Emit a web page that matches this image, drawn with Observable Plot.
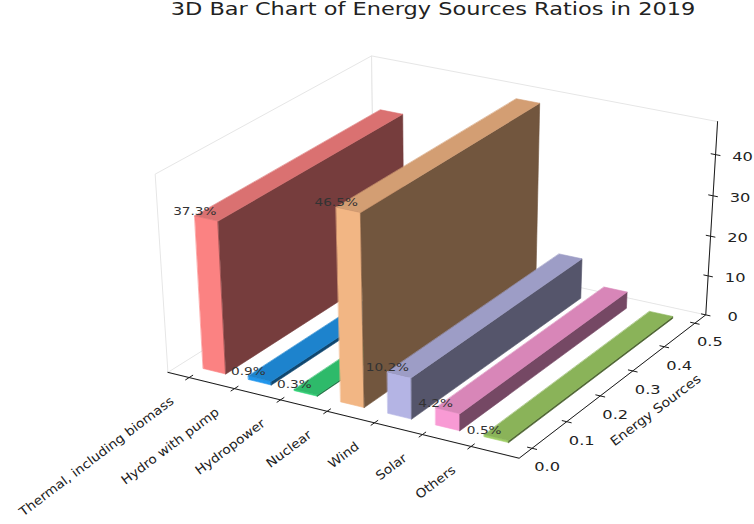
<!DOCTYPE html>
<html>
<head>
<meta charset="utf-8">
<script src="https://cdn.jsdelivr.net/npm/d3@7"></script>
<script src="https://cdn.jsdelivr.net/npm/@observablehq/plot@0.6"></script>
<style>
  body { margin: 0; background: #fff; font-family: "DejaVu Sans", sans-serif; }
  #title { position: relative; width: 754px; height: 30px; }
  #title span { position: absolute; left: 433px; top: -1px; white-space: nowrap; font-size: 17px; color: #222;
    transform: translateX(-50%) scaleX(1.32); transform-origin: center; }
</style>
</head>
<body>
<div id="title"><span></span></div>
<div id="chart"></div>
<script>
// ---------------- data ----------------
const chartTitle = "3D Bar Chart of Energy Sources Ratios in 2019";
const categories = ["Thermal, including biomass", "Hydro with pump", "Hydropower", "Nuclear", "Wind", "Solar", "Others"];
const values = [37.3, 0.9, 0.3, 46.5, 10.2, 4.2, 0.5];
const barColors = ["#fb8282", "#2196ec", "#35d67a", "#f2b684", "#b4b4e4", "#f89ad4", "#9fce66"];
const yTicks = [0, 0.1, 0.2, 0.3, 0.4, 0.5];
const zTicks = [0, 10, 20, 30, 40];
const yAxisLabel = "Energy Sources";
const barDx = 0.5, barDy = 0.5, barY = 0;

document.querySelector("#title span").textContent = chartTitle;

// ---------------- 3D camera (matplotlib-like: elev 30, azim -60, perspective) ----------------
const toRad = Math.PI / 180;
const elev = 30 * toRad, azim = -60 * toRad, camDist = 10;
function padLimits(lo, hi) { const m = (hi - lo) * 0.05; const a = lo - m, b = hi + m; const p = (b - a) / 48; return [a - p, b + p]; }
const xLim = padLimits(0, categories.length - 1 + barDx);
const yLim = padLimits(barY, barY + barDy);
const zLim = [0, d3.max(values) * 1.03];

const dot = (a, b) => a[0] * b[0] + a[1] * b[1] + a[2] * b[2];
const cross = (a, b) => [a[1] * b[2] - a[2] * b[1], a[2] * b[0] - a[0] * b[2], a[0] * b[1] - a[1] * b[0]];
const unit = a => { const l = Math.hypot(...a); return a.map(d => d / l); };
const wv = [Math.cos(elev) * Math.cos(azim), Math.cos(elev) * Math.sin(azim), Math.sin(elev)];
const uv = unit(cross([0, 0, 1], wv));
const vv = cross(wv, uv);
const kBox = 1.8294640721620434 * 25 / 24 / Math.hypot(4, 4, 3);
const box = [4 * kBox, 4 * kBox, 3 * kBox];
function project(x, y, z) {
  const q = [
    (x - xLim[0]) / (xLim[1] - xLim[0]) * box[0] - box[0] / 2,
    (y - yLim[0]) / (yLim[1] - yLim[0]) * box[1] - box[1] / 2,
    (z - zLim[0]) / (zLim[1] - zLim[0]) * box[2] - box[2] / 2
  ];
  const d = camDist - dot(wv, q);
  return { px: dot(uv, q) / d, py: dot(vv, q) / d };
}
const P = p => project(p[0], p[1], p[2]);

// screen mapping of projected coordinates (layout)
const W = 754, H = 494;
const X0 = 441.3, SX = 3380, Y0 = 216.9, SY = 2530;

// ---------------- geometry built from data ----------------
const [xa, xb] = xLim, [ya, yb] = yLim, [za, zb] = zLim;
const panes = [
  [[xa, ya, za], [xa, ya, zb], [xa, yb, zb], [xa, yb, za]],   // left
  [[xa, yb, za], [xa, yb, zb], [xb, yb, zb], [xb, yb, za]],   // back
  [[xa, ya, za], [xa, yb, za], [xb, yb, za], [xb, ya, za]]    // bottom
];
const axisPath = [[xa, ya, za], [xb, ya, za], [xb, yb, za], [xb, yb, zb]].map(P);

const shade = { front: 1, top: 0.87, side: 0.47 };
function scaleColor(c, f) { const r = d3.rgb(c); return d3.rgb(r.r * f, r.g * f, r.b * f).formatHex(); }
const faces = [];
values.forEach((v, i) => {
  const x0 = i, x1 = i + barDx, y0 = barY, y1 = barY + barDy, z0 = 0, z1 = v;
  faces.push({ pts: [[x0, y0, z0], [x1, y0, z0], [x1, y0, z1], [x0, y0, z1]], color: scaleColor(barColors[i], shade.front) });
  faces.push({ pts: [[x1, y0, z0], [x1, y1, z0], [x1, y1, z1], [x1, y0, z1]], color: scaleColor(barColors[i], shade.side) });
  faces.push({ pts: [[x0, y0, z1], [x1, y0, z1], [x1, y1, z1], [x0, y1, z1]], color: scaleColor(barColors[i], shade.top) });
});

const xTickLinks = categories.map((c, i) => { const a = project(i, ya - 0.01, za), b = project(i, ya + 0.01, za); return { x1: a.px, y1: a.py, x2: b.px, y2: b.py }; });
const yTickLinks = yTicks.map(t => { const a = project(xb - 0.1, t, za), b = project(xb + 0.1, t, za); return { x1: a.px, y1: a.py, x2: b.px, y2: b.py }; });
const zTickLinks = zTicks.map(t => { const a = project(xb - 0.1, yb, t), b = project(xb + 0.1, yb, t); return { x1: a.px, y1: a.py, x2: b.px, y2: b.py }; });

const barLabels = values.map((v, i) => ({ ...project(i, barY, v), text: v.toFixed(1) + "%" }));
const xTickLabels = categories.map((c, i) => ({ ...project(i, ya, za), text: c }));
const yTickLabels = yTicks.map(t => ({ ...project(xb, t, za), text: t.toFixed(1) }));
const zTickLabels = zTicks.map(t => ({ ...project(xb, yb, t), text: String(t) }));
const yLabelPos = [{ ...project(xb, (ya + yb) / 2, za), text: yAxisLabel }];

// ---------------- marks ----------------
const marks = [];
panes.forEach(p => marks.push(Plot.line(p.map(P), { x: "px", y: "py", curve: "linear-closed", fill: "white", stroke: "#e6e6e6", strokeWidth: 1 })));
marks.push(Plot.line(axisPath, { x: "px", y: "py", stroke: "#1a1a1a", strokeWidth: 1 }));
[xTickLinks, yTickLinks, zTickLinks].forEach(d => marks.push(Plot.link(d, { x1: "x1", y1: "y1", x2: "x2", y2: "y2", stroke: "#1a1a1a", strokeWidth: 1 })));
faces.forEach(f => marks.push(Plot.line(f.pts.map(P), { x: "px", y: "py", curve: "linear-closed", fill: f.color, stroke: f.color, strokeWidth: 0.6 })));
marks.push(Plot.text(barLabels, { x: "px", y: "py", text: "text", fontSize: 10.5, fill: "#333", textAnchor: "middle", lineAnchor: "bottom", dy: -1 }));
marks.push(Plot.text(xTickLabels, { x: "px", y: "py", text: "text", fontSize: 12.5, fill: "#222", textAnchor: "end", lineAnchor: "middle", rotate: -37, dx: -17, dy: 22 }));
marks.push(Plot.text(yTickLabels, { x: "px", y: "py", text: "text", fontSize: 12.5, fill: "#222", textAnchor: "middle", lineAnchor: "middle", dx: 15, dy: 19 }));
marks.push(Plot.text(zTickLabels, { x: "px", y: "py", text: "text", fontSize: 12.5, fill: "#222", textAnchor: "middle", lineAnchor: "middle", dx: 27, dy: 2 }));
marks.push(Plot.text(yLabelPos, { x: "px", y: "py", text: "text", fontSize: 12.8, fill: "#222", textAnchor: "middle", lineAnchor: "middle", rotate: -37, dx: 39, dy: 27 }));

const svg = Plot.plot({
  width: W,
  height: H,
  x: { type: "linear", domain: [-0.1, 0.1], range: [X0 - 0.1 * SX, X0 + 0.1 * SX], axis: null },
  y: { type: "linear", domain: [-0.1, 0.1], range: [Y0 + 0.1 * SY, Y0 - 0.1 * SY], axis: null },
  style: { fontFamily: "DejaVu Sans", background: "white", overflow: "visible" },
  marks
});
document.getElementById("chart").appendChild(svg);

// horizontal glyph stretch to match the reference's aspect
const stretchFactor = new Map();
[...barLabels, ...yTickLabels, ...zTickLabels].forEach(d => stretchFactor.set(d.text, 1.3));
[...xTickLabels, ...yLabelPos].forEach(d => stretchFactor.set(d.text, 1.1));
svg.querySelectorAll("text").forEach(t => {
  const f = stretchFactor.get(t.textContent);
  if (!f) return;
  const L = t.getComputedTextLength();
  if (L > 0) { t.setAttribute("textLength", (L * f).toFixed(2)); t.setAttribute("lengthAdjust", "spacingAndGlyphs"); }
});
</script>
</body>
</html>
